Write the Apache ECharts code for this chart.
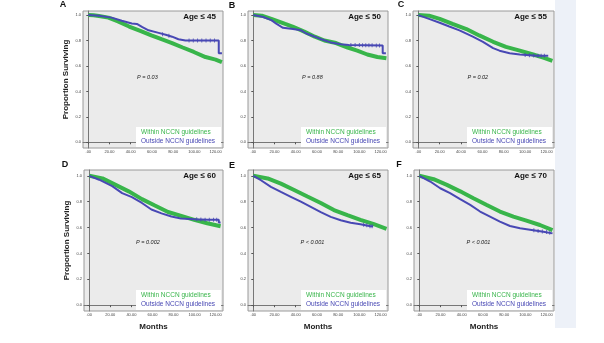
<!DOCTYPE html>
<html><head><meta charset="utf-8">
<script src="https://cdn.jsdelivr.net/npm/echarts@6/dist/echarts.min.js"></script>
<style>html,body{margin:0;padding:0;background:#fff}#c{width:604px;height:343px}</style>
</head><body><div id="c"></div>
<script>
// ---------- data ----------
const xTicks = [0, 20, 40, 60, 80, 100, 120];
const xTickLabels = ['.00', '20.00', '40.00', '60.00', '80.00', '100.00', '120.00'];
const yTicks = [0, 0.2, 0.4, 0.6, 0.8, 1.0];
const yTickLabels = ['0.0', '0.2', '0.4', '0.6', '0.8', '1.0'];
const panelLetters = ['A', 'B', 'C', 'D', 'E', 'F'];
const ageLabels = ['Age ≤ 45', 'Age ≤ 50', 'Age ≤ 55', 'Age ≤ 60', 'Age ≤ 65', 'Age ≤ 70'];
const pLabels = ['P = 0.03', 'P = 0.88', 'P = 0.02', 'P = 0.002', 'P < 0.001', 'P < 0.001'];
const seriesNames = ['Within NCCN guidelines', 'Outside NCCN guidelines'];

const withinA = [[0,1],[5,0.998],[10,0.993],[19,0.98],[28,0.95],[38.5,0.91],[49,0.875],[59.4,0.84],[69,0.81],[79,0.78],[89,0.745],[99.5,0.71],[110.5,0.67],[120,0.65],[126,0.63]];
const outsideA = [[0,1],[10,0.995],[22,0.98],[31.6,0.955],[41,0.934],[45.8,0.93],[51,0.905],[56.8,0.88],[66.3,0.86],[73,0.845],[79,0.83],[85,0.81],[91.6,0.80],[123,0.80],[123,0.70],[126,0.70]];
const withinB = [[0,1],[8,0.995],[17,0.97],[30,0.93],[37,0.91],[48,0.87],[58,0.83],[67,0.80],[78,0.78],[89,0.745],[98,0.72],[107.5,0.69],[117,0.67],[125.5,0.66]];
const outsideB = [[0,1],[9.4,0.985],[17,0.96],[22,0.93],[28,0.90],[37.4,0.89],[45,0.88],[50,0.855],[58,0.83],[64,0.81],[73,0.785],[82.6,0.77],[90,0.765],[122,0.76],[122,0.70],[125,0.70]];
const withinC = [[0,1],[10,0.995],[20,0.97],[32,0.93],[45,0.89],[57,0.84],[70,0.79],[82,0.75],[95,0.72],[107.5,0.69],[117,0.665],[125.5,0.64]];
const outsideC = [[0,1],[10,0.97],[20,0.94],[29,0.91],[38.5,0.88],[51,0.83],[60.5,0.79],[70,0.74],[76,0.72],[85.5,0.70],[95,0.69],[104,0.685],[110.6,0.68],[121.6,0.68]];
const withinD = [[0,1],[12.5,0.98],[25,0.93],[37.4,0.88],[50,0.82],[62.3,0.77],[74.8,0.72],[87.3,0.69],[99.7,0.66],[112,0.633],[124.7,0.61]];
const outsideD = [[0,1],[9.4,0.97],[21.8,0.92],[31.2,0.866],[40.5,0.835],[50,0.79],[59,0.74],[68.6,0.71],[78,0.685],[87,0.67],[100,0.664],[112,0.66],[123,0.66],[123,0.64],[124.7,0.64]];
const withinE = [[0,1],[13.5,0.98],[26,0.94],[38.5,0.89],[51,0.84],[63.6,0.79],[76,0.735],[88.7,0.696],[101,0.66],[113.7,0.626],[125.6,0.59]];
const outsideE = [[0,1],[7.2,0.966],[16.6,0.915],[26,0.876],[35.4,0.838],[44.8,0.80],[54.2,0.76],[63.6,0.72],[73,0.683],[82.4,0.657],[91.8,0.637],[101,0.626],[110.6,0.61],[113,0.61]];
const withinF = [[0,1],[13.5,0.974],[26,0.93],[38.5,0.88],[51,0.827],[63.6,0.775],[76,0.724],[88.7,0.685],[101,0.654],[113.7,0.62],[125.6,0.58]];
const outsideF = [[0,1],[10.3,0.956],[19.7,0.904],[29,0.866],[38.5,0.82],[48,0.775],[57.3,0.724],[66.7,0.685],[76,0.646],[85.5,0.612],[95,0.594],[107.5,0.58],[117,0.568],[125.6,0.555]];

const censorA = [[95,0.80],[99,0.80],[103,0.80],[107,0.80],[111,0.80],[115,0.80],[119,0.80],[70,0.85],[76,0.838]];
const censorB = [[92,0.765],[96,0.764],[100,0.764],[103,0.763],[106,0.763],[109,0.762],[112,0.762],[116,0.761],[119,0.761]];
const censorC = [[100,0.687],[104,0.685],[108,0.682],[112,0.68],[115,0.68],[118,0.68]];
const censorD = [[102,0.664],[106,0.663],[110,0.661],[114,0.66],[118,0.66],[121,0.66]];
const censorE = [[104,0.622],[107,0.617],[110,0.611],[112,0.61]];
const censorF = [[108,0.58],[112,0.574],[116,0.569],[120,0.565],[123,0.56]];

const withinAll = [withinA, withinB, withinC, withinD, withinE, withinF];
const outsideAll = [outsideA, outsideB, outsideC, outsideD, outsideE, outsideF];
const censorAll = [censorA, censorB, censorC, censorD, censorE, censorF];

// ---------- layout / style ----------
const GREEN = '#38b54a', BLUE = '#4848b4';
const FONT = 'Liberation Sans';
const gridBoxes = [
  {l:83, t:11, w:140, h:137}, {l:248, t:11, w:140, h:137}, {l:413, t:11, w:141, h:137},
  {l:84, t:170, w:139, h:141}, {l:248, t:170, w:140, h:141}, {l:414, t:170, w:140, h:141}
];
const letterPos = [[63,5],[232,6],[401,5],[65,165],[232,166],[399,165]];

const grids = [], xAxes = [], yAxes = [], series = [], graphics = [], legends = [];
graphics.push({type:'rect', shape:{x:555, y:0, width:21, height:328}, style:{fill:'#edf1f8'}, z:-1});

gridBoxes.forEach((g, i) => {
  grids.push({left:g.l, top:g.t, width:g.w, height:g.h, show:true, backgroundColor:'#ebebeb', borderColor:'#9a9a9a', borderWidth:1, containLabel:false});
  const bottomRow = i >= 3;
  xAxes.push({
    type:'value', gridIndex:i, min:-5, max:127,
    axisLine:{show:true, lineStyle:{color:'#777', width:1}},
    axisTick:{show:true, customValues:xTicks, length:2, lineStyle:{color:'#555'}},
    axisLabel:{customValues:xTicks, fontSize:4, color:'#444', fontFamily:FONT, margin:2,
      formatter: v => xTickLabels[xTicks.indexOf(v)]},
    splitLine:{show:false},
    name: bottomRow ? 'Months' : '', nameLocation:'middle', nameGap:12,
    nameTextStyle:{fontSize:8, fontWeight:'bold', fontFamily:FONT, color:'#222'}
  });
  const leftCol = (i % 3) === 0;
  yAxes.push({
    type:'value', gridIndex:i, min:-0.045, max: bottomRow ? 1.045 : 1.032,
    axisLine:{show:true, lineStyle:{color:'#777', width:1}},
    axisTick:{show:true, customValues:yTicks, length:2, lineStyle:{color:'#555'}},
    axisLabel:{customValues:yTicks, fontSize:4, color:'#444', fontFamily:FONT, margin:2,
      formatter: v => yTickLabels[yTicks.findIndex(t => Math.abs(t - v) < 1e-6)]},
    splitLine:{show:false},
    name: leftCol ? 'Proportion Surviving' : '', nameLocation:'middle', nameGap:13, nameRotate:90,
    nameTextStyle:{fontSize:8, fontWeight:'bold', fontFamily:FONT, color:'#222'}
  });
  series.push({type:'line', name:seriesNames[0], xAxisIndex:i, yAxisIndex:i, data:withinAll[i],
    showSymbol:false, symbol:'none', lineStyle:{color:GREEN, width:4}, itemStyle:{color:GREEN}, z:2});
  series.push({type:'line', name:seriesNames[1], xAxisIndex:i, yAxisIndex:i, data:outsideAll[i],
    showSymbol:false, symbol:'none', lineStyle:{color:BLUE, width:2}, itemStyle:{color:BLUE}, z:3});
  series.push({type:'scatter', name:'censored', xAxisIndex:i, yAxisIndex:i, data:censorAll[i],
    symbol:'rect', symbolSize:[1,4], itemStyle:{color:BLUE}, z:4});

  graphics.push({type:'text', x:letterPos[i][0], y:letterPos[i][1], style:{text:panelLetters[i], font:'bold 9px ' + FONT, fill:'#111', align:'center', verticalAlign:'middle'}});
  graphics.push({type:'text', x:g.l + g.w - 7, y:g.t + 6, style:{text:ageLabels[i], font:'bold 8px ' + FONT, fill:'#111', align:'right', verticalAlign:'middle'}});
  graphics.push({type:'text', x:g.l + g.w * 0.46, y:g.t + (bottomRow ? 72 : 66), style:{text:pLabels[i], font:'italic 5.5px ' + FONT, fill:'#222', align:'center', verticalAlign:'middle'}});
  legends.push({
    left: g.l + g.w - 87, top: g.t + g.h - 21, orient:'vertical', icon:'none', itemWidth:0, itemHeight:6, itemGap:2,
    backgroundColor:'#ffffff', padding:[2,6,2,0], selectedMode:false,
    textStyle:{fontSize:6.5, fontFamily:FONT, fontWeight:'normal', padding:0},
    data:[{name:seriesNames[0], textStyle:{color:GREEN}}, {name:seriesNames[1], textStyle:{color:BLUE}}]
  });
});

const chart = echarts.init(document.getElementById('c'), null, {renderer:'canvas'});
chart.setOption({
  animation:false,
  backgroundColor:'#ffffff',
  grid:grids, xAxis:xAxes, yAxis:yAxes, series:series, legend:legends, graphic:graphics
});
</script></body></html>
